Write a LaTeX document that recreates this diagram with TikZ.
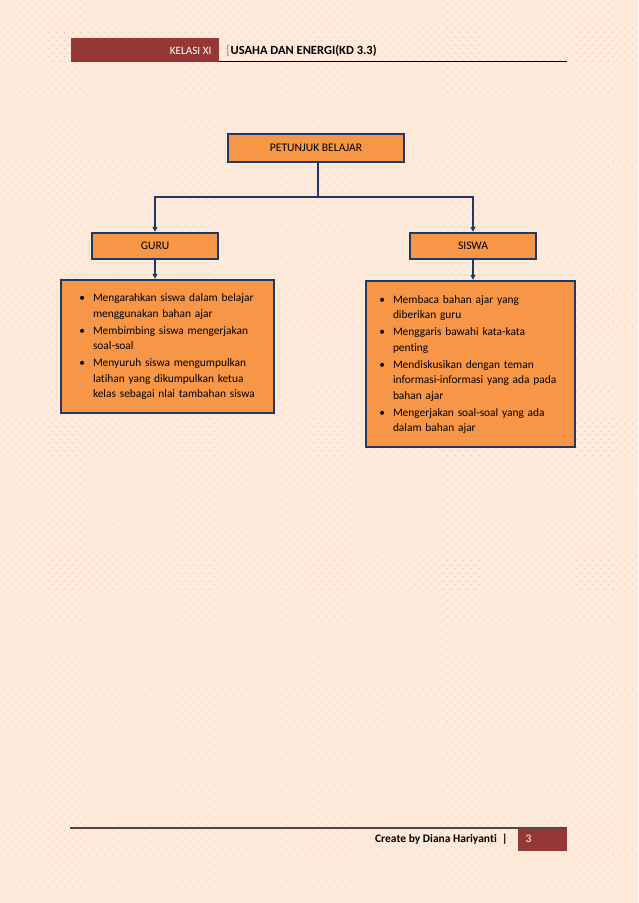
\documentclass[tikz,border=0pt]{standalone}
\usepackage{fontspec}
\setmainfont{Carlito}[Ligatures=NoCommon]
\usepackage{enumitem}
\usetikzlibrary{arrows.meta,patterns.meta}
\definecolor{latar}{HTML}{FDEADA}
\definecolor{titik}{HTML}{E6BFB0}
\definecolor{oranye}{HTML}{F79646}
\definecolor{biru}{HTML}{1F3864}
\definecolor{merah}{HTML}{953735}
\definecolor{hijau}{HTML}{9BBB59}
\setlist[itemize]{label=\textbullet, leftmargin=13pt, labelsep=8pt, nosep, itemsep=1.5pt, after=\vspace{7pt}}
\begin{document}
\begin{tikzpicture}[x=1pt, y=-1pt,
    kotak/.style={draw=biru, line width=2.4pt, fill=oranye, font=\fontsize{11.6}{13}\selectfont},
    daftar/.style={kotak, align=left, inner xsep=15pt, font=\fontsize{11.4}{15.5}\selectfont},
    garis/.style={draw=biru, line width=2pt},
    panah/.style={garis, -{Triangle[length=5pt,width=5pt]}}]
    \useasboundingbox (0,0) rectangle (638,903);
    % latar halaman
    \fill[latar] (0,0) rectangle (638,903);
    \fill[pattern={Dots[distance=5.7pt, angle=45, radius=0.55pt]}, pattern color=titik] (0,0) rectangle (638,903);

    % kepala halaman
    \fill[merah] (71,38) rectangle (219,62);
    \draw[black, line width=0.8pt] (219,61.5) -- (567,61.5);
    \node[anchor=east, text=white, font=\fontsize{11.2}{13}\selectfont] (kelas) at (215,51) {KELASI XI};
    \node[anchor=west, inner xsep=0pt, text=hijau, font=\fontsize{12.5}{14}\selectfont\bfseries] (kurung) at (226,51) {[};
    \node[anchor=west, inner xsep=0pt, font=\fontsize{12.5}{14}\selectfont\bfseries] (judul) at (kurung.east) {USAHA DAN ENERGI(KD 3.3)};

    % bagan
    \node[kotak, minimum width=176pt, minimum height=28pt] (petunjuk) at (316,148) {PETUNJUK BELAJAR};
    \node[kotak, minimum width=126pt, minimum height=26pt] (guru) at (155,246) {GURU};
    \node[kotak, minimum width=126pt, minimum height=26pt] (siswa) at (473,246) {SISWA};

    \node[daftar, text width=183pt, minimum height=133pt] (tugasguru) at (167.5,346.5) {%
        \begin{itemize}[leftmargin=17pt]
        \item Mengarahkan siswa dalam belajar\newline menggunakan bahan ajar
        \item Membimbing siswa mengerjakan\newline soal-soal
        \item Menyuruh siswa mengumpulkan\newline latihan yang dikumpulkan ketua\newline kelas sebagai nlai tambahan siswa
        \end{itemize}};
    \node[daftar, inner xsep=14pt, text width=181pt, minimum height=166pt] (tugassiswa) at (470.5,364) {%
        \begin{itemize}
        \item Membaca bahan ajar yang\newline diberikan guru
        \item Menggaris bawahi kata-kata\newline penting
        \item Mendiskusikan dengan teman\newline informasi-informasi yang ada pada\newline bahan ajar
        \item Mengerjakan soal-soal yang ada\newline dalam bahan ajar
        \end{itemize}};

    \coordinate (cabang) at (318,197);
    \draw[garis] (petunjuk.south -| cabang) -- (cabang);
    \draw[panah] (cabang) -| (guru.north);
    \draw[panah] (cabang) -| (siswa.north);
    \draw[panah] (guru.south) -- (guru.south |- tugasguru.north);
    \draw[panah] (siswa.south) -- (siswa.south |- tugassiswa.north);

    % kaki halaman
    \draw[black!70, line width=1.2pt] (70,828) -- (567,828);
    \fill[merah] (518,829) rectangle (567,851);
    \node[anchor=west, text=white, font=\fontsize{11.5}{13}\selectfont] (halaman) at (522,839) {3};
    \node[anchor=east, font=\fontsize{11.5}{13}\selectfont\bfseries] (pembuat) at (511,839) {Create by Diana Hariyanti~~|};
\end{tikzpicture}
\end{document}
